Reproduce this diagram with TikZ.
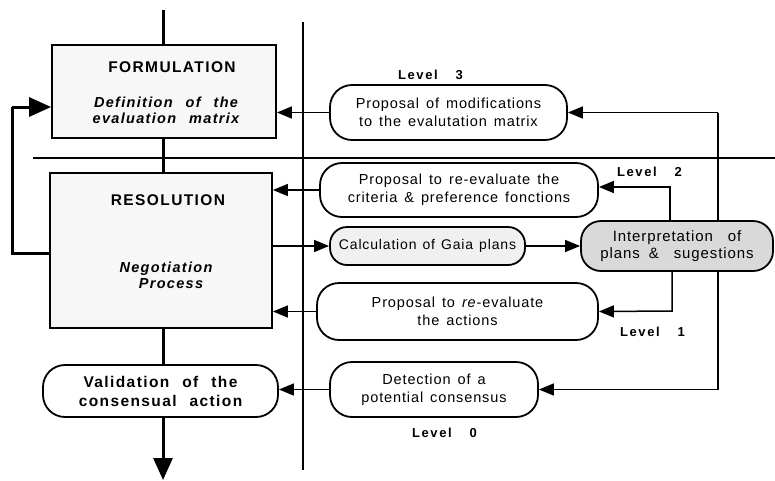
\documentclass[tikz,border=0pt]{standalone}
\usepackage{fontspec}
\setmainfont{Liberation Sans}
\newfontfamily\bxfont{Liberation Sans}[LetterSpace=6]
\newfontfamily\bdfont{Liberation Sans}[LetterSpace=9]
\newfontfamily\lvfont{Liberation Sans}[LetterSpace=12]
\usetikzlibrary{arrows.meta,calc}
\tikzset{
  mainbox/.style={draw,line width=1.8pt,fill=gray!6,inner sep=0pt,align=center},
  pill/.style={draw,line width=1.8pt,rounded corners=22pt,fill=white,inner sep=0pt,align=center,
    font={\bxfont\fontsize{14.5}{18}\selectfont\spaceskip=7pt plus 1pt minus 1pt}},
  boldpill/.style={pill,font={\bdfont\bfseries\fontsize{15.5}{19}\selectfont\spaceskip=13pt plus 1pt minus 1pt}},
  lvl/.style={font=\lvfont\bfseries\fontsize{13}{14}\selectfont,inner sep=0pt,anchor=west},
  ttl/.style={font=\bdfont\bfseries\fontsize{15.5}{18}\selectfont,inner sep=0pt},
  itl/.style={font={\bdfont\bfseries\itshape\fontsize{14.5}{16}\selectfont\spaceskip=13pt plus 1pt minus 1pt},inner sep=0pt,align=center},
  thickline/.style={line width=3pt},
  conn/.style={line width=1.5pt},
  arr/.style={conn,-{Triangle[length=15pt,width=12pt]}},
  thickarr/.style={thickline,-{Triangle[length=22pt,width=19pt]}},
  divider/.style={line width=1.2pt},
}
\begin{document}
\begin{tikzpicture}[x=1pt,y=-1pt]
\useasboundingbox (0,0) rectangle (775,480);
% coordinates
\coordinate (top) at (163,10);
\coordinate (bot) at (163,480);
\coordinate (vdT) at (303,22);
\coordinate (vdB) at (303,470);
\coordinate (hdL) at (33,158);
\coordinate (hdR) at (775,158);
\coordinate (R3) at (718,112.5);
\coordinate (R0) at (718,389.5);
\coordinate (fbB) at (12,253);
\coordinate (fbT) at (12,107);
\coordinate (L2) at (670,187);
\coordinate (L1) at (672,311);
% dividers and background connector
\draw[divider] (vdT) -- (vdB);
\draw[divider] (hdL) -- (hdR);
\draw[conn] (R3) -- (R0);
% left column boxes
\node[mainbox,minimum width=224pt,minimum height=93pt] (form) at (164,91.5) {};
\node[ttl] (formT) at (172,67) {FORMULATION};
\node[itl] (formI) at (166,110) {Definition of the\\evaluation matrix};
\node[mainbox,minimum width=222pt,minimum height=155pt] (res) at (161,250.5) {};
\node[ttl] (resT) at (168,200) {RESOLUTION};
\node[itl] (resI) at (166,275) {Negotiation\\\hspace*{10pt}Process};
\node[boldpill,minimum width=235pt,minimum height=52pt] (val) at (160.5,391) {Validation of the\\consensual action};
% right column boxes
\node[pill,minimum width=237pt,minimum height=55pt] (b3) at (448.5,112.5) {Proposal of modifications\\to the evalutation matrix};
\node[pill,minimum width=278pt,minimum height=54pt] (b2) at (459,190) {Proposal to re-evaluate the\\criteria \& preference fonctions};
\node[pill,fill=gray!12,rounded corners=17pt,minimum width=195pt,minimum height=38pt,
  font={\bxfont\fontsize{14}{18}\selectfont\spaceskip=6pt plus 1pt minus 1pt}] (calc) at (427.5,246) {Calculation of Gaia plans};
\node[pill,fill=gray!30,rounded corners=20pt,minimum width=192pt,minimum height=50pt,
  font={\bxfont\fontsize{15}{17}\selectfont\spaceskip=9pt plus 1pt minus 1pt}] (interp) at (677,246) {Interpretation\hspace{6pt} of\\plans \&\hspace{6pt} sugestions};
\node[pill,minimum width=281pt,minimum height=57pt] (b1) at (457.5,311.5) {Proposal to \textit{re}-evaluate\\the actions};
\node[pill,minimum width=208pt,minimum height=55pt] (det) at (434,389.5) {Detection of a\\potential consensus};
% level labels
\node[lvl] (lv3) at (398,75) {Level\hspace{18pt}3};
\node[lvl] (lv2) at (617,172) {Level\hspace{18pt}2};
\node[lvl] (lv1) at (620,332) {Level\hspace{18pt}1};
\node[lvl] (lv0) at (412,433) {Level\hspace{18pt}0};
% main flow
\draw[thickline] (top) -- (top |- form.north);
\draw[thickline] (top |- form.south) -- (top |- res.north);
\draw[thickline] (top |- res.south) -- (top |- val.north);
\draw[thickarr] (top |- val.south) -- (bot);
% feedback loop
\draw[thickline] (fbB -| res.west) -- (fbB) -- (fbT);
\draw[thickarr] (fbT) -- (fbT -| form.west);
% right connectors into left boxes
\draw[arr] (b3.west) -- (b3.west -| form.east);
\draw[arr] (b2.west) -- (b2.west -| res.east);
\draw[arr] (calc.west -| res.east) -- (calc.west);
\draw[arr] (calc.east) -- (interp.west);
\draw[arr] (b1.west) -- (b1.west -| res.east);
\draw[arr] (det.west) -- (det.west -| val.east);
% from interpretation
\draw[arr] (L2 |- interp.north) -- (L2) -- (L2 -| b2.east);
\draw[arr] (L1 |- interp.south) -- (L1) -- (b1.east);
\draw[arr] (R3) -- (b3.east);
\draw[arr] (R0) -- (det.east);
\end{tikzpicture}
\end{document}
